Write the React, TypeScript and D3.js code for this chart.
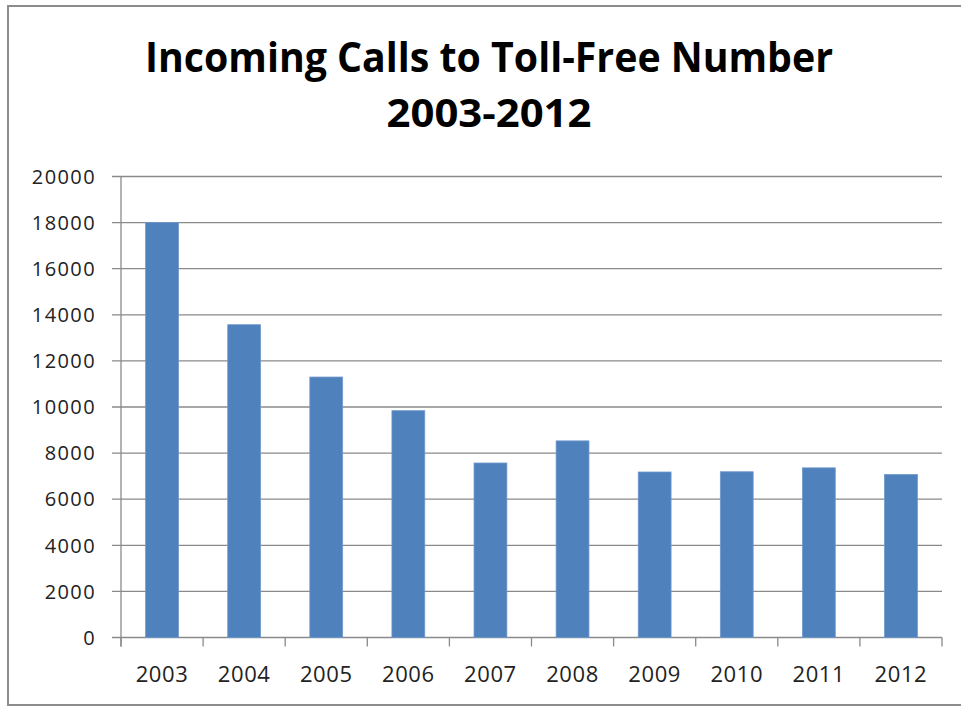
import React from "react";
import * as d3 from "d3";

const years = ["2003", "2004", "2005", "2006", "2007", "2008", "2009", "2010", "2011", "2012"];
const calls = [18000, 13570, 11300, 9840, 7570, 8530, 7180, 7190, 7360, 7070];
const yTicks = [0, 2000, 4000, 6000, 8000, 10000, 12000, 14000, 16000, 18000, 20000];
const titleLines = ["Incoming Calls to Toll-Free Number", "2003-2012"];

const W = 961;
const H = 707;
const plotLeft = 121;
const plotRight = 942;
const plotTop = 176.5;
const plotBottom = 637.5;
const FONT = "'Open Sans', 'Liberation Sans', sans-serif";
const GRID = "#8a8a8a";

export default function App() {
  const x = d3.scaleBand<string>().domain(years).range([plotLeft, plotRight]).paddingInner(0.6).paddingOuter(0.3);
  const y = d3.scaleLinear().domain([0, 20000]).range([plotBottom, plotTop]);
  const step = x.step();
  const boundaries = d3.range(years.length + 1).map((i) => plotLeft + i * ((plotRight - plotLeft) / years.length));

  return (
    <svg width={W} height={H} style={{ position: "absolute", left: 0, top: 0, background: "#fff" }}>
      <rect x={0} y={0} width={W} height={H} fill="#fff" />
      <rect x={8} y={6} width={W + 10} height={699} fill="none" stroke="#8c8c8c" strokeWidth={2} />

      <text x={489} y={71.7} textAnchor="middle" fontFamily={FONT} fontWeight={700} fontSize={41}
        textLength={688} lengthAdjust="spacingAndGlyphs" fill="#000">{titleLines[0]}</text>
      <text x={489} y={127.3} textAnchor="middle" fontFamily={FONT} fontWeight={700} fontSize={39}
        textLength={205} lengthAdjust="spacingAndGlyphs" fill="#000">{titleLines[1]}</text>

      {yTicks.map((t) => (
        <g key={t}>
          <line x1={112} x2={t === 0 ? plotRight : plotRight} y1={y(t)} y2={y(t)} stroke={GRID} strokeWidth={1.3} />
          <text x={96} y={y(t)} dy="0.36em" textAnchor="end" fontFamily={FONT} fontSize={20}
            letterSpacing={1.4} fill="#222">{t}</text>
        </g>
      ))}

      <line x1={plotLeft} x2={plotLeft} y1={plotTop} y2={plotBottom + 9} stroke={GRID} strokeWidth={1.3} />
      {boundaries.map((bx, i) => (
        <line key={i} x1={bx} x2={bx} y1={plotBottom} y2={plotBottom + 9} stroke={GRID} strokeWidth={1.3} />
      ))}

      {years.map((yr, i) => (
        <rect key={yr} x={x(yr)} y={y(calls[i])} width={x.bandwidth()} height={plotBottom - y(calls[i])}
          fill="#4f81bd" stroke="#6f98cc" strokeWidth={0.8} />
      ))}

      {years.map((yr) => (
        <text key={yr} x={(x(yr) as number) + x.bandwidth() / 2} y={682} textAnchor="middle"
          fontFamily={FONT} fontSize={22} letterSpacing={0.6} fill="#222">{yr}</text>
      ))}
    </svg>
  );
}
